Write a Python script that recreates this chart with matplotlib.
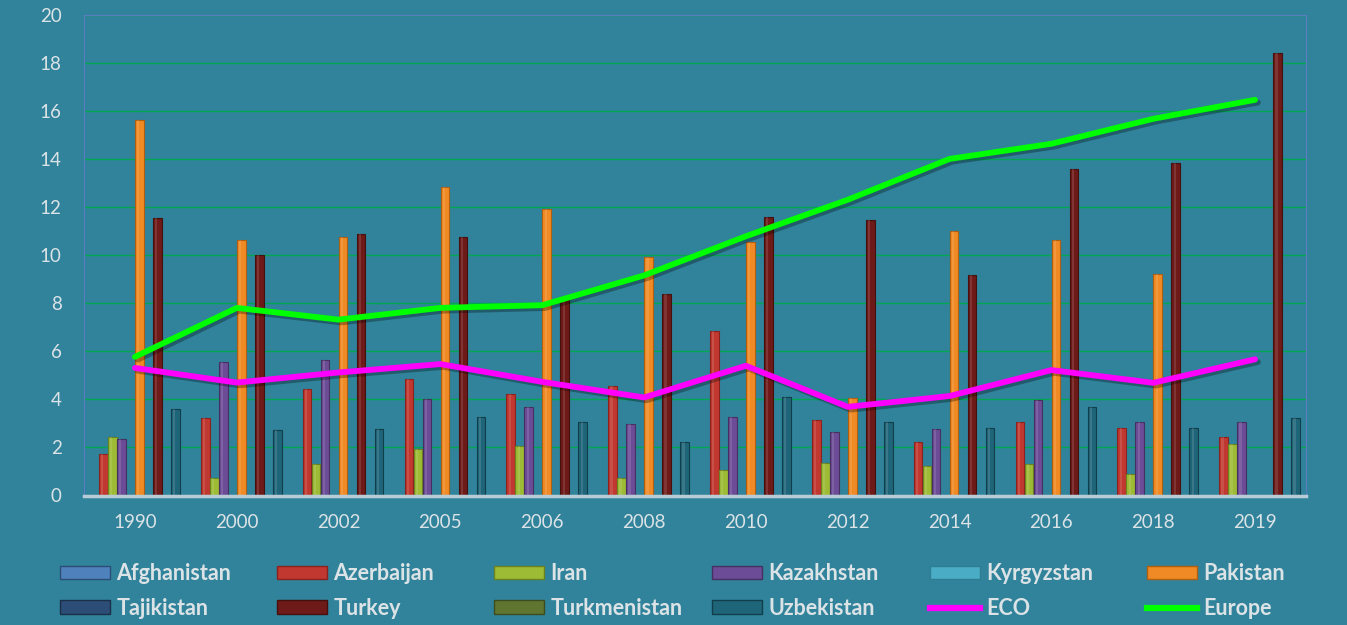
import matplotlib
matplotlib.use('Agg')
import matplotlib.pyplot as plt
import matplotlib.patheffects as pe
from matplotlib.patches import Patch
from matplotlib.lines import Line2D
import numpy as np

plt.rcParams['font.family'] = ['Lato', 'DejaVu Sans']

years = ['1990', '2000', '2002', '2005', '2006', '2008', '2010', '2012', '2014', '2016', '2018', '2019']

afghanistan = [0, 0, 0, 0, 0, 0, 0, 0, 0, 0, 0, 0]
azerbaijan = [1.72, 3.23, 4.43, 4.86, 4.21, 4.55, 6.84, 3.13, 2.24, 3.07, 2.83, 2.44]
iran = [2.42, 0.74, 1.32, 1.95, 2.07, 0.74, 1.06, 1.36, 1.24, 1.31, 0.88, 2.13]
kazakhstan = [2.36, 5.56, 5.62, 4.00, 3.69, 2.97, 3.28, 2.64, 2.78, 3.98, 3.07, 3.07]
kyrgyzstan = [0, 0, 0, 0, 0, 0, 0, 0, 0, 0, 0, 0]
pakistan = [15.64, 10.65, 10.76, 12.86, 11.94, 9.93, 10.55, 4.04, 10.99, 10.62, 9.21, 0]
tajikistan = [0, 0, 0, 0, 0, 0, 0, 0, 0, 0, 0, 0]
turkey = [11.55, 10.02, 10.90, 10.76, 8.26, 8.39, 11.60, 11.46, 9.16, 13.57, 13.86, 18.40]
turkmenistan = [0, 0, 0, 0, 0, 0, 0, 0, 0, 0, 0, 0]
uzbekistan = [3.61, 2.71, 2.75, 3.28, 3.07, 2.21, 4.08, 3.07, 2.83, 3.69, 2.83, 3.23]
eco = [5.31, 4.70, 5.12, 5.47, 4.73, 4.08, 5.40, 3.69, 4.14, 5.22, 4.69, 5.67]
europe = [5.77, 7.81, 7.32, 7.81, 7.92, 9.16, 10.79, 12.31, 14.01, 14.64, 15.68, 16.47]

countries = ['Afghanistan', 'Azerbaijan', 'Iran', 'Kazakhstan', 'Kyrgyzstan',
             'Pakistan', 'Tajikistan', 'Turkey', 'Turkmenistan', 'Uzbekistan']
series = [afghanistan, azerbaijan, iran, kazakhstan, kyrgyzstan,
          pakistan, tajikistan, turkey, turkmenistan, uzbekistan]
colors = ['#4F81BD', '#C0382F', '#9DBB35', '#6C4C96', '#4BACC6',
          '#F08A24', '#2C4D75', '#6E1A18', '#5F7530', '#1F6579']
edges = ['#2C4D75', '#8A2320', '#6B8220', '#46305F', '#2E7E92',
         '#B05E10', '#1A2F48', '#45100E', '#3E4D1F', '#113E4B']

bg = '#30839B'
fig = plt.figure(figsize=(13.47, 6.25), dpi=100, facecolor=bg)
ax = fig.add_axes([84/1347, 129.5/625, 1222/1347, 480.5/625])
ax.set_facecolor(bg)

x = np.arange(len(years))
w = 0.0884
for k, (vals, c, ec) in enumerate(zip(series, colors, edges)):
    ax.bar(x + (k - 4.5) * w, vals, width=w * 0.97, color=c, edgecolor=ec,
           linewidth=0.8, zorder=2)
    # light highlight stripe to mimic the bevelled look
    ax.bar(x + (k - 4.5) * w - w * 0.12, vals, width=w * 0.25, color='white',
           alpha=0.12, linewidth=0, zorder=2.1)

shadow = [pe.SimpleLineShadow(offset=(2, -2), shadow_color='black', alpha=0.3), pe.Normal()]
ax.plot(x, eco, color='#FF00FF', lw=4.2, zorder=4, solid_capstyle='round',
        solid_joinstyle='round', path_effects=shadow)
ax.plot(x, europe, color='#00FF00', lw=4.2, zorder=4, solid_capstyle='round',
        solid_joinstyle='round', path_effects=shadow)

ax.set_xlim(-0.5, len(years) - 0.5)
ax.set_ylim(0, 20)
ax.set_yticks(range(0, 21, 2))
ax.set_xticks(x)
ax.set_xticklabels(years)
ax.yaxis.grid(True, color='#00A651', lw=1)
ax.set_axisbelow(True)
ax.tick_params(axis='both', length=0, colors='#DCE3E6', labelsize=13.5)
ax.tick_params(axis='y', pad=16)
ax.tick_params(axis='x', pad=13)
for s in ['left', 'top', 'right']:
    ax.spines[s].set_color('#5A7FC0')
    ax.spines[s].set_linewidth(0.8)
ax.spines['bottom'].set_color('#B8CCD8')
ax.spines['bottom'].set_linewidth(2.5)

handles = [Patch(facecolor=c, edgecolor=ec, linewidth=1) for c, ec in zip(colors, edges)]
handles += [Line2D([0], [0], color='#FF00FF', lw=4.5), Line2D([0], [0], color='#00FF00', lw=4.5)]
labels = countries + ['ECO', 'Europe']

col_x = [60, 277, 494, 712, 930, 1147]
for j, cx in enumerate(col_x):
    leg = fig.legend([handles[j], handles[j + 6]], [labels[j], labels[j + 6]],
                     loc='upper left', bbox_to_anchor=(cx / 1347, (625 - 563) / 625),
                     frameon=False, ncol=1, borderpad=0, borderaxespad=0,
                     handlelength=2.33, handleheight=0.6, handletextpad=0.28,
                     labelspacing=0.64, prop={'weight': 'bold', 'size': 15.5})
    for t in leg.get_texts():
        t.set_color('#DCE3E6')

fig.savefig('out.png', dpi=100, facecolor=bg)
